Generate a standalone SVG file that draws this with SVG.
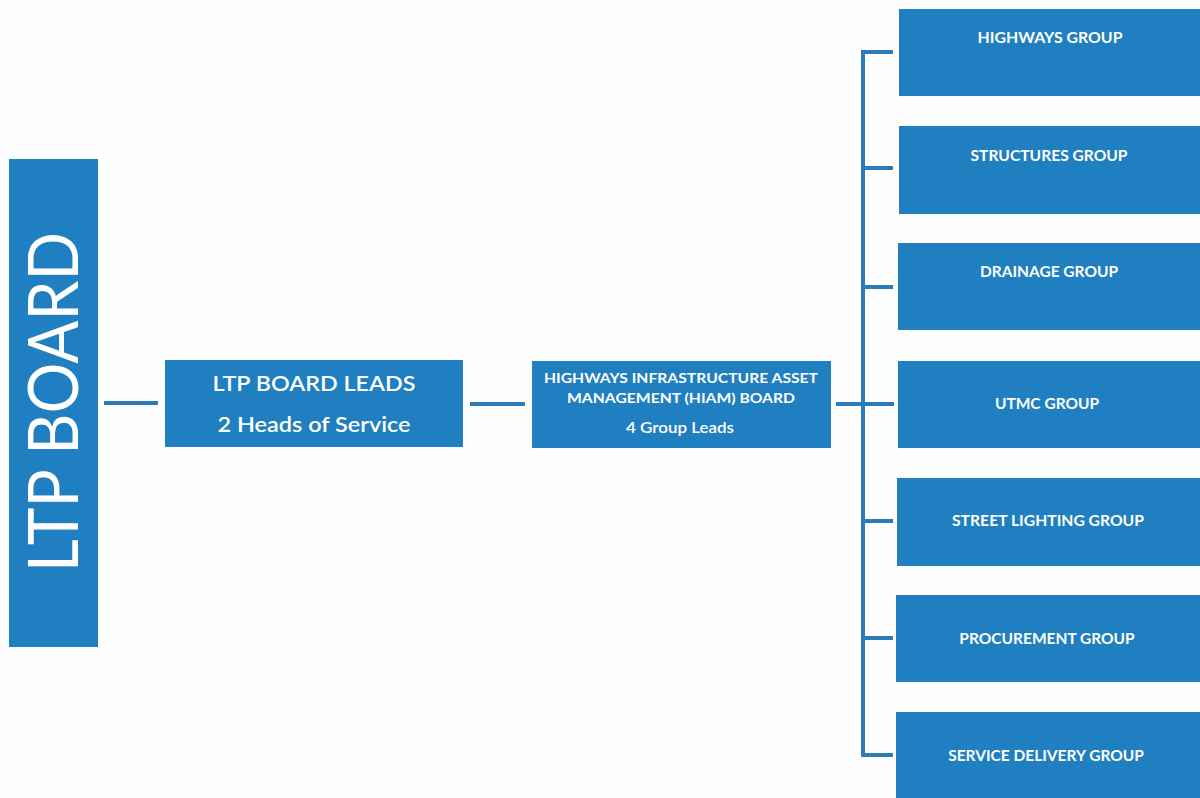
<svg xmlns="http://www.w3.org/2000/svg" width="1200" height="798" viewBox="0 0 1200 798">
<style>
.box{fill:#1f7fc1}
.t{fill:#ffffff;font-family:Lato,"Open Sans","Liberation Sans",sans-serif;text-anchor:middle}
.g{font-size:15.5px;font-weight:bold}
.ln{stroke:#2b7bb6;stroke-width:4;fill:none}
</style>
<rect width="1200" height="798" fill="#fefefe"/>
<g id="connectors">
<line class="ln" x1="104" y1="403" x2="158" y2="403"/>
<line class="ln" x1="470" y1="404" x2="525" y2="404"/>
<line class="ln" x1="836" y1="404" x2="894" y2="404"/>
<path class="ln" d="M893 52 H863 V755 H893"/>
<line class="ln" x1="863" y1="168" x2="893" y2="168"/>
<line class="ln" x1="863" y1="287" x2="893" y2="287"/>
<line class="ln" x1="863" y1="521" x2="893" y2="521"/>
<line class="ln" x1="863" y1="638" x2="893" y2="638"/>
</g>
<g id="ltp-board">
<rect class="box" x="9" y="159" width="89" height="488"/>
<text class="t" transform="translate(78,402) rotate(-90)" font-size="70" textLength="340" lengthAdjust="spacingAndGlyphs">LTP BOARD</text>
</g>
<g id="ltp-board-leads">
<rect class="box" x="165" y="360" width="298" height="87"/>
<text class="t" x="314" y="391" font-size="21" font-weight="600" textLength="203" lengthAdjust="spacingAndGlyphs">LTP BOARD LEADS</text>
<text class="t" x="314" y="432" font-size="21" font-weight="600" textLength="193" lengthAdjust="spacingAndGlyphs">2 Heads of Service</text>
</g>
<g id="hiam-board">
<rect class="box" x="532" y="361" width="299" height="87"/>
<text class="t" x="681" y="383" font-size="14" font-weight="bold" textLength="274" lengthAdjust="spacingAndGlyphs">HIGHWAYS INFRASTRUCTURE ASSET</text>
<text class="t" x="681" y="403" font-size="14" font-weight="bold" textLength="228" lengthAdjust="spacingAndGlyphs">MANAGEMENT (HIAM) BOARD</text>
<text class="t" x="680" y="433" font-size="16" font-weight="600" textLength="108" lengthAdjust="spacingAndGlyphs">4 Group Leads</text>
</g>
<g id="highways-group">
<rect class="box" x="899" y="9" width="301" height="87"/>
<text class="t g" x="1050" y="43" textLength="145" lengthAdjust="spacingAndGlyphs">HIGHWAYS GROUP</text>
</g>
<g id="structures-group">
<rect class="box" x="899" y="126" width="301" height="88"/>
<text class="t g" x="1049" y="161" textLength="157" lengthAdjust="spacingAndGlyphs">STRUCTURES GROUP</text>
</g>
<g id="drainage-group">
<rect class="box" x="898" y="243" width="302" height="87"/>
<text class="t g" x="1049" y="277">DRAINAGE GROUP</text>
</g>
<g id="utmc-group">
<rect class="box" x="898" y="361" width="302" height="87"/>
<text class="t g" x="1047" y="409">UTMC GROUP</text>
</g>
<g id="street-lighting-group">
<rect class="box" x="897" y="478" width="303" height="88"/>
<text class="t g" x="1048" y="526" textLength="192" lengthAdjust="spacingAndGlyphs">STREET LIGHTING GROUP</text>
</g>
<g id="procurement-group">
<rect class="box" x="896" y="595" width="304" height="87"/>
<text class="t g" x="1047" y="644">PROCUREMENT GROUP</text>
</g>
<g id="service-delivery-group">
<rect class="box" x="896" y="712" width="304" height="90"/>
<text class="t g" x="1046" y="761">SERVICE DELIVERY GROUP</text>
</g>
</svg>
